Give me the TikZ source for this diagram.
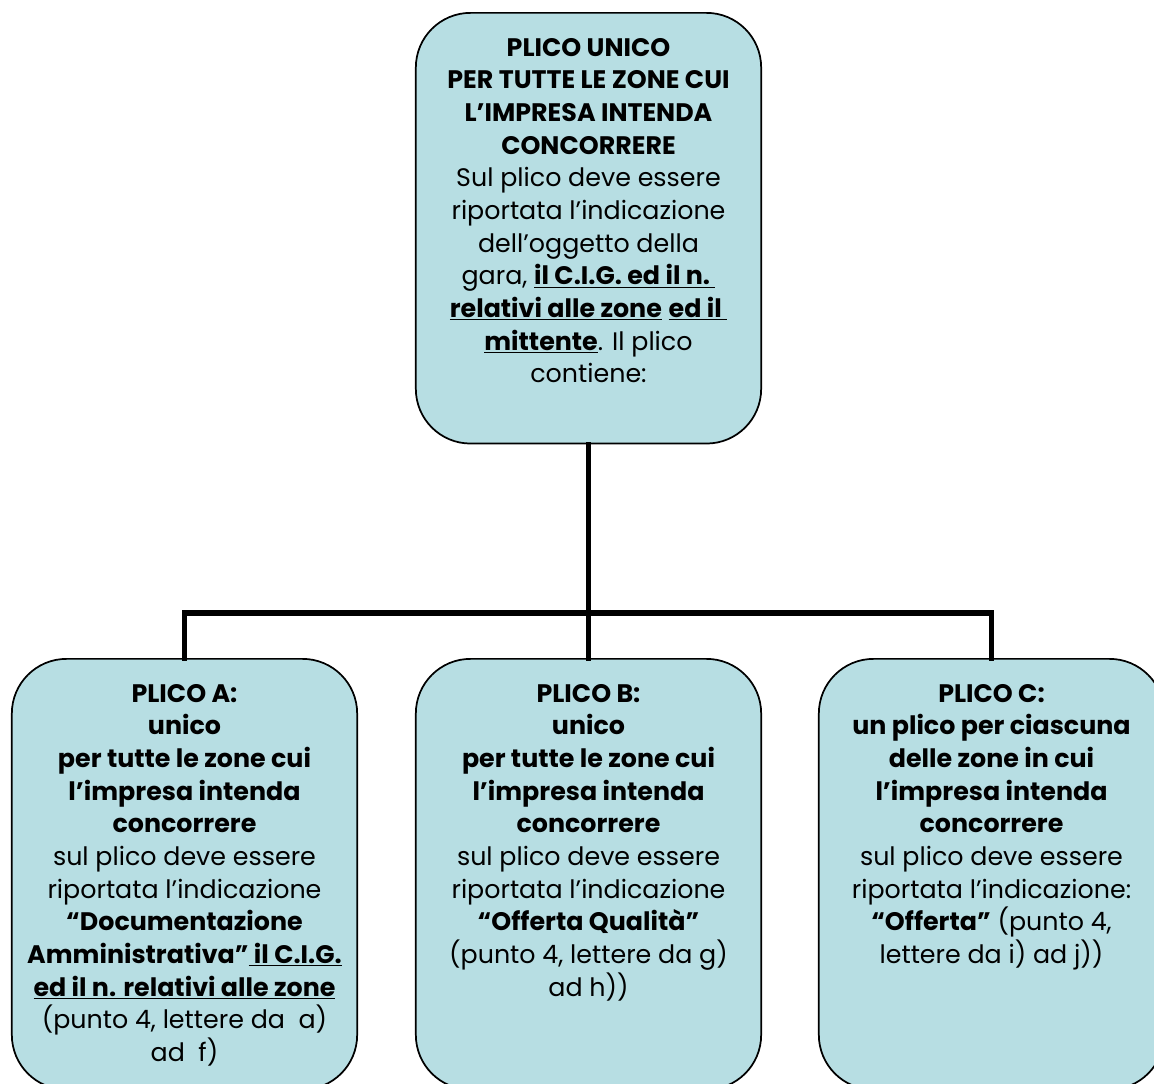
\documentclass[tikz,border=0pt]{standalone}
\usepackage{fontspec}
\setmainfont{Poppins}
\usepackage{xcolor}
\usetikzlibrary{calc, positioning}

\definecolor{plicofill}{HTML}{B7DEE3}

\tikzset{
    plicobox/.style={draw=black, line width=1.3pt, fill=plicofill, rounded corners=41pt,
        minimum width=259pt, minimum height=323pt, inner sep=0pt},
    plicotext/.style={anchor=north, align=center, inner sep=0pt,
        font=\fontsize{19}{24.5}\selectfont},
    bus/.style={line width=3.8pt, line cap=rect}
}

\begin{document}
\begin{tikzpicture}[x=0.75pt, y=-0.75pt]
    \useasboundingbox (0,0) rectangle (1154,1083);
    \clip (0,0) rectangle (1154,1083);

    % Plico principale
    \node[plicobox, anchor=north] (unico) at (588.5,12) {};
    \node[plicotext] (unicotxt) at ($(unico.north)+(0,26)$) {%
        \textbf{PLICO UNICO}\\
        \textbf{PER TUTTE LE ZONE CUI}\\
        \textbf{L’IMPRESA INTENDA}\\
        \textbf{CONCORRERE}\\
        Sul plico deve essere\\
        riportata l’indicazione\\
        dell’oggetto della\\
        gara, \textbf{\underline{il C.I.G. ed il n.\ }}\\
        \textbf{\underline{relativi alle zone}} \textbf{\underline{ed il\ }}\\
        \textbf{\underline{mittente}}. Il plico\\
        contiene:};

    % Plichi A, B, C
    \node[plicobox, anchor=north] (plicoA) at (184.5,658) {};
    \node[plicobox, anchor=north] (plicoB) at (588.5,658) {};
    \node[plicobox, anchor=north] (plicoC) at (991.5,658) {};

    \node[plicotext] (plicoAtxt) at ($(plicoA.north)+(0,26)$) {%
        \textbf{PLICO A:}\\
        \textbf{unico}\\
        \textbf{per tutte le zone cui}\\
        \textbf{l’impresa intenda}\\
        \textbf{concorrere}\\
        sul plico deve essere\\
        riportata l’indicazione\\
        \textbf{“Documentazione}\\
        \textbf{Amministrativa”\underline{\ il C.I.G.}}\\
        \textbf{\underline{ed il n. relativi alle zone}}\\
        (punto 4, lettere da\ \ a)\\
        ad\ \ f)};
    \node[plicotext] (plicoBtxt) at ($(plicoB.north)+(0,26)$) {%
        \textbf{PLICO B:}\\
        \textbf{unico}\\
        \textbf{per tutte le zone cui}\\
        \textbf{l’impresa intenda}\\
        \textbf{concorrere}\\
        sul plico deve essere\\
        riportata l’indicazione\\
        \textbf{“Offerta Qualità”}\\
        (punto 4, lettere da g)\\
        ad h))};
    \node[plicotext] (plicoCtxt) at ($(plicoC.north)+(0,26)$) {%
        \textbf{PLICO C:}\\
        \textbf{un plico per ciascuna}\\
        \textbf{delle zone in cui}\\
        \textbf{l’impresa intenda}\\
        \textbf{concorrere}\\
        sul plico deve essere\\
        riportata l’indicazione:\\
        \textbf{“Offerta”} (punto 4,\\
        lettere da i) ad j))};

    % Collegamenti
    \coordinate (snodo) at (588.5,613);
    \draw[bus] (unico.south) -- (snodo);
    \draw[bus] (snodo) -| (plicoA.north);
    \draw[bus] (snodo) -| (plicoC.north);
    \draw[bus] (snodo) -- (plicoB.north);
\end{tikzpicture}
\end{document}
